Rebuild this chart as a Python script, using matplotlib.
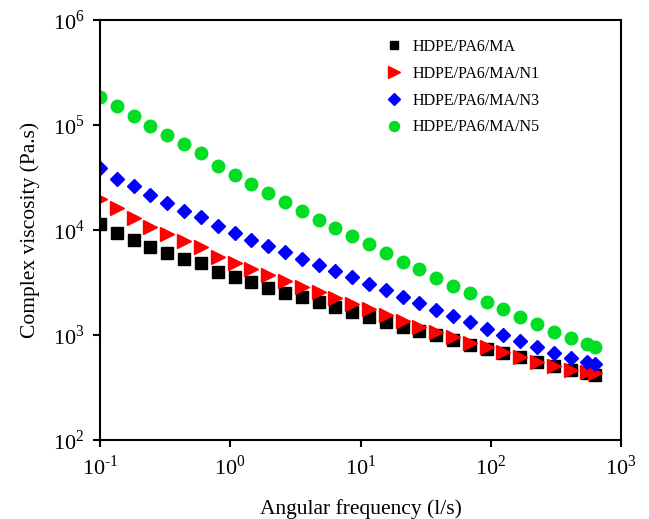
import numpy as np
import matplotlib
matplotlib.use('Agg')
import matplotlib.pyplot as plt
from matplotlib.ticker import FuncFormatter

plt.rcParams['font.family'] = ['Liberation Serif', 'DejaVu Serif']
plt.rcParams['mathtext.fontset'] = 'custom'
plt.rcParams['mathtext.rm'] = 'Liberation Serif'
plt.rcParams['axes.unicode_minus'] = False

# 角频率 (rad/s)
freq = [0.1, 0.135, 0.181, 0.244, 0.328, 0.442, 0.595, 0.80, 1.08, 1.45,
        1.95, 2.63, 3.54, 4.76, 6.41, 8.63, 11.6, 15.6, 21.0, 28.3,
        38.1, 51.3, 69.0, 92.9, 125, 168, 226, 305, 410, 552, 628]

# 复数黏度 (Pa.s)
visc_ma = [11400, 9420, 8040, 6930, 6080, 5370, 4820, 4010, 3550, 3180,
           2790, 2530, 2290, 2050, 1840, 1670, 1490, 1340, 1200, 1100,
           1000, 895, 804, 746, 678, 621, 557, 507, 465, 432, 416]
visc_n1 = [20000, 16100, 13200, 10700, 9160, 7910, 6930, 5570, 4820, 4260,
           3720, 3270, 2880, 2550, 2240, 1970, 1760, 1550, 1360, 1200,
           1070, 962, 843, 764, 684, 621, 557, 511, 465, 448, 438]
visc_n3 = [38700, 31000, 26200, 21500, 18200, 15200, 13400, 10900, 9310, 8040,
           7050, 6140, 5300, 4650, 4090, 3550, 3060, 2670, 2300, 2030,
           1730, 1510, 1320, 1140, 993, 883, 764, 679, 604, 557, 530]
visc_n5 = [186000, 152000, 122000, 98400, 80400, 65500, 54500, 40900, 33900, 27400,
           22600, 18600, 15200, 12600, 10500, 8770, 7310, 6040, 4990, 4230,
           3490, 2950, 2510, 2090, 1770, 1480, 1280, 1070, 935, 815, 774]

labels = ['HDPE/PA6/MA', 'HDPE/PA6/MA/N1', 'HDPE/PA6/MA/N3', 'HDPE/PA6/MA/N5']


def pow10(v, pos):
    e = int(round(np.log10(v)))
    if e < 0:
        return r'$10^{\text{-}%d}$' % (-e)
    return r'$10^{%d}$' % e


fig = plt.figure(figsize=(6.49, 5.19), dpi=100)
ax = fig.add_axes([0.154, 0.152, 0.803, 0.809])

ax.plot(freq, visc_ma, 's', color='black', ms=8, label=labels[0])
ax.plot(freq, visc_n1, '>', color='#ff0000', ms=10, label=labels[1])
ax.plot(freq, visc_n3, 'D', color='#0000ff', ms=7.5, label=labels[2])
ax.plot(freq, visc_n5, 'o', color='#00dd22', ms=9, label=labels[3])

ax.set_xscale('log')
ax.set_yscale('log')
ax.set_xlim(0.1, 1000)
ax.set_ylim(1e2, 1e6)
ax.minorticks_off()
ax.xaxis.set_major_formatter(FuncFormatter(pow10))
ax.yaxis.set_major_formatter(FuncFormatter(pow10))

for s in ax.spines.values():
    s.set_linewidth(1.5)
ax.tick_params(direction='out', length=5, width=1.5, labelsize=16, pad=6)

ax.set_xlabel('Angular frequency (l/s)', fontsize=15.5, labelpad=14)
ax.set_ylabel('Complex viscosity (Pa.s)', fontsize=15.5, labelpad=9)

ax.legend(loc='upper left', bbox_to_anchor=(0.518, 0.99), frameon=False,
          fontsize=11.5, labelspacing=0.68, handletextpad=0.6, handlelength=1.2,
          markerscale=0.8)

plt.savefig('out.png', dpi=100)
